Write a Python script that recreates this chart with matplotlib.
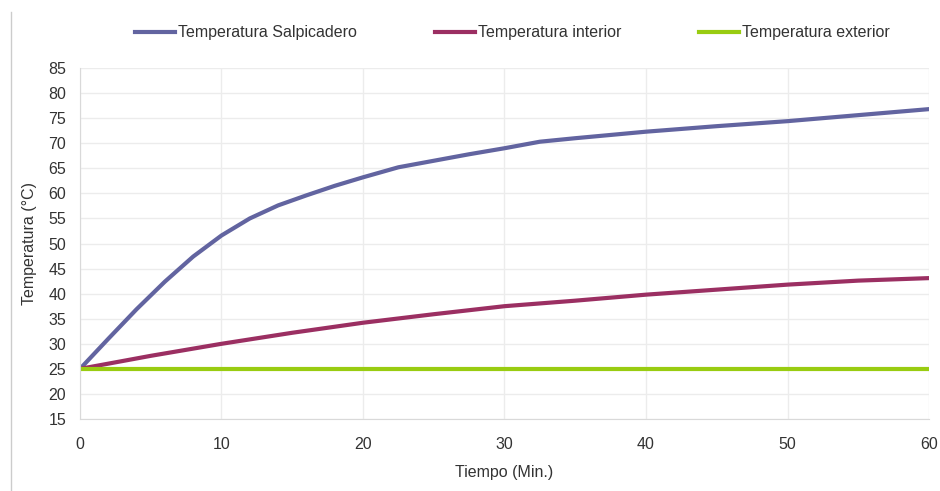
import matplotlib.pyplot as plt
import numpy as np
from matplotlib.lines import Line2D

plt.rcParams['font.family'] = ['Liberation Sans', 'DejaVu Sans']

# data (minutes, degrees C)
t_salp = [0, 2, 4, 6, 8, 10, 12, 14, 16, 18, 20, 22.5, 25, 27.5, 30, 32.5, 35, 40, 45, 50, 55, 60]
salpicadero = [25, 31, 36.9, 42.4, 47.4, 51.6, 55, 57.6, 59.6, 61.5, 63.2, 65.2, 66.5, 67.8, 69, 70.3, 71, 72.3, 73.4, 74.4, 75.6, 76.8]
t_int = [0, 5, 10, 15, 20, 25, 30, 35, 40, 45, 50, 55, 60]
interior = [25, 27.6, 30, 32.2, 34.2, 35.9, 37.5, 38.6, 39.8, 40.8, 41.8, 42.6, 43.1]
t_ext = [0, 60]
exterior = [25, 25]

fig = plt.figure(figsize=(9.4, 4.91), dpi=100)
ax = fig.add_axes([0.0851, 0.1466, 0.9032, 0.7149])

ax.plot(t_salp, salpicadero, color='#6264a0', lw=3, label='Temperatura Salpicadero')
ax.plot(t_int, interior, color='#9b2f62', lw=3, label='Temperatura interior')
ax.plot(t_ext, exterior, color='#99cc11', lw=3, label='Temperatura exterior')

ax.set_xlim(0, 60)
ax.set_ylim(15, 85)
ax.set_xticks(np.arange(0, 61, 10))
ax.set_yticks(np.arange(15, 86, 5))
ax.grid(True, color='#ececec', lw=1)
ax.set_axisbelow(True)
for s in ['top', 'right']:
    ax.spines[s].set_visible(False)
for s in ['left', 'bottom']:
    ax.spines[s].set_color('#d9d9d9')
ax.tick_params(length=0, labelsize=11.5, colors='#333333')
ax.tick_params(axis='x', pad=13)
ax.tick_params(axis='y', pad=10)
ax.set_xlabel('Tiempo (Min.)', fontsize=11.5, color='#333333', labelpad=9)
ax.set_ylabel('Temperatura (°C)', fontsize=11.5, color='#333333', labelpad=8)

fig.legend(loc='center', bbox_to_anchor=(0.545, 0.933), ncol=3, frameon=False,
           fontsize=11.5, handlelength=2.5, handletextpad=0.2, columnspacing=4.85,
           labelcolor='#333333')

fig.add_artist(Line2D([11 / 940, 11 / 940], [0, 1 - 12 / 491], color='#cccccc', lw=1))

fig.savefig('out.png', dpi=100)
